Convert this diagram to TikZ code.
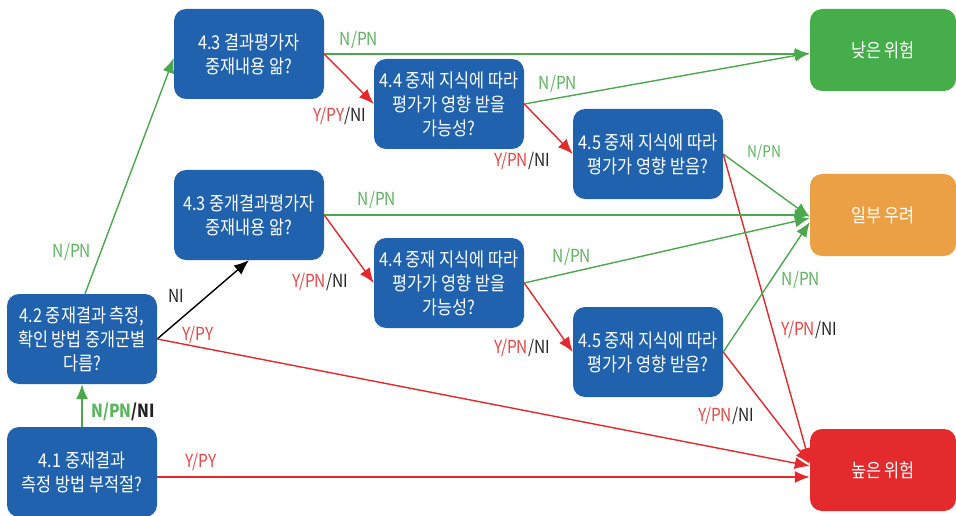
\documentclass[tikz,border=0pt]{standalone}
\usepackage{fontspec}
\setmainfont[FakeStretch=0.86]{Noto Sans CJK KR}
\usetikzlibrary{arrows.meta}
\definecolor{boxblue}{HTML}{2062AE}
\definecolor{boxgreen}{HTML}{45AE4A}
\definecolor{boxorange}{HTML}{ECA045}
\definecolor{boxred}{HTML}{E32B2D}
\definecolor{lngreen}{HTML}{4BA84C}
\definecolor{lnred}{HTML}{E5282B}
\definecolor{lngreenT}{HTML}{5BB55D}
\definecolor{lnredT}{HTML}{E84645}
\definecolor{lndark}{HTML}{222222}
\tikzset{
  qbox/.style={draw=none, fill=boxblue, rounded corners=12pt, minimum width=150pt, minimum height=90pt,
    text=white, align=center, inner sep=0pt, font=\fontsize{19}{24}\selectfont},
  rbox/.style={draw=none, rounded corners=12pt, minimum width=146pt, minimum height=82pt,
    text=white, align=center, inner sep=0pt, font=\fontsize{19}{24}\selectfont},
  arr/.style={line width=1.4pt, -{Latex[length=15pt,width=12pt]}},
  gline/.style={arr, draw=lngreen},
  rline/.style={arr, draw=lnred},
  kline/.style={arr, draw=black},
  lbl/.style={inner sep=0pt, font=\fontsize{18}{20}\selectfont},
}
\newcommand{\G}[1]{\textcolor{lngreenT}{#1}}
\newcommand{\R}[1]{\textcolor{lnredT}{#1}}
\newcommand{\K}[1]{\textcolor{lndark}{#1}}
\begin{document}
\begin{tikzpicture}[x=1pt,y=-1pt]
\useasboundingbox (0,0) rectangle (956,516);
\begin{scope}
\clip (0,0) rectangle (956,516);
% question boxes
\node[qbox] (n41) at (82,472) {4.1 중재결과\\측정 방법 부적절?};
\node[qbox] (n42) at (82,339) {4.2 중재결과 측정,\\확인 방법 중개군별\\다름?};
\node[qbox] (n43a) at (249,54) {4.3 결과평가자\\중재내용 앎?};
\node[qbox] (n43b) at (249,215) {4.3 중개결과평가자\\중재내용 앎?};
\node[qbox] (n44a) at (449,104) {4.4 중재 지식에 따라\\평가가 영향 받을\\가능성?};
\node[qbox] (n44b) at (449,283) {4.4 중재 지식에 따라\\평가가 영향 받을\\가능성?};
\node[qbox] (n45a) at (648,154) {4.5 중재 지식에 따라\\평가가 영향 받음?};
\node[qbox] (n45b) at (648,352) {4.5 중재 지식에 따라\\평가가 영향 받음?};
% result boxes
\node[rbox, fill=boxgreen] (low) at (883,50) {낮은 위험};
\node[rbox, fill=boxorange] (some) at (883,215) {일부 우려};
\node[rbox, fill=boxred] (high) at (883,470) {높은 위험};
\end{scope}
% connectors
\draw[gline] (n41.north) -- (n42.south);
\draw[rline] ([yshift=-5pt]n41.east) -- ([yshift=-5pt]n41.east -| high.west);
\draw[gline] ([xshift=3pt]n42.north) -- ([yshift=-4pt]n43a.west);
\draw[kline] (n42.east) -- (n43b.south);
\draw[rline] (n42.east) -- ([yshift=4pt]high.west);
\draw[gline] (n43a.east) -- (n43a.east -| low.west);
\draw[rline] (n43a.east) -- (n44a.west);
\draw[gline] (n44a.east) -- ([yshift=-3pt]low.west);
\draw[rline] (n44a.east) -- (n45a.west);
\draw[gline] (n45a.east) -- ([yshift=-2pt]some.west);
\draw[rline] (n45a.east) -- ([yshift=7pt]high.west);
\draw[gline] (n43b.east) -- (n43b.east -| some.west);
\draw[rline] (n43b.east) -- (n44b.west);
\draw[gline] (n44b.east) -- ([yshift=-3pt]some.west);
\draw[rline] (n44b.east) -- (n45b.west);
\draw[gline] (n45b.east) -- ([yshift=-7pt]some.west);
\draw[rline] (n45b.east) -- ([yshift=6pt]high.west);
% labels
\node[lbl, font=\fontsize{18}{20}\selectfont\bfseries] (l1) at (123,412) {\G{N/PN}\K{/NI}};
\node[lbl] (l2) at (201,462) {\R{Y/PY}};
\node[lbl] (l3) at (198,335) {\R{Y/PY}};
\node[lbl] (l4) at (176,296) {\K{NI}};
\node[lbl] (l5) at (72,252) {\G{N/PN}};
\node[lbl] (l6) at (359,40) {\G{N/PN}};
\node[lbl] (l7) at (340,116) {\R{Y/PY}\K{/NI}};
\node[lbl] (l8) at (522,161) {\R{Y/PN}\K{/NI}};
\node[lbl] (l9) at (558,84) {\G{N/PN}};
\node[lbl, font=\fontsize{16}{18}\selectfont] (l10) at (764,153) {\G{N/PN}};
\node[lbl] (l11) at (377,200) {\G{N/PN}};
\node[lbl] (l12) at (320,282) {\R{Y/PN}\K{/NI}};
\node[lbl] (l13) at (572,257) {\G{N/PN}};
\node[lbl] (l14) at (801,280) {\G{N/PN}};
\node[lbl] (l15) at (809,330) {\R{Y/PN}\K{/NI}};
\node[lbl] (l16) at (522,348) {\R{Y/PN}\K{/NI}};
\node[lbl] (l17) at (726,416) {\R{Y/PN}\K{/NI}};
\end{tikzpicture}
\end{document}
